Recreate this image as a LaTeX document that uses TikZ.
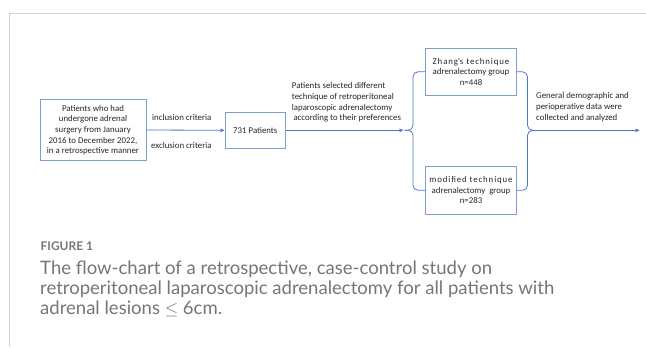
\documentclass[tikz,border=0pt]{standalone}
\usepackage{fontspec}
\setmainfont{Carlito}
\newfontfamily\capfont{Lato}
\usetikzlibrary{arrows.meta}
\definecolor{boxblue}{HTML}{7F9CD6}
\definecolor{lineblue}{HTML}{4F7AC7}
\definecolor{framegray}{HTML}{D2D2D2}
\definecolor{capgray}{HTML}{767676}
\definecolor{txt}{HTML}{262626}
\begin{document}
\begin{tikzpicture}[x=1bp,y=-1bp,
  box/.style={draw=boxblue,line width=0.9bp,inner sep=0pt,align=center,
    font=\fontsize{8.85}{10.7}\selectfont,text=txt},
  lbl/.style={inner sep=0pt,align=left,font=\fontsize{8.85}{10.7}\selectfont,text=txt},
  conn/.style={draw=lineblue,line width=0.8bp},
  arr/.style={conn,-{Triangle[length=4bp,width=3.5bp]}},
  brace/.style={conn,rounded corners=5bp},
  caph/.style={anchor=west,inner sep=0pt,text=capgray,font=\capfont\bfseries\fontsize{12}{14}\selectfont},
  capline/.style={anchor=base west,inner sep=0pt,text=capgray,font=\capfont\fontsize{18.6}{20}\selectfont}]
\useasboundingbox (0,0) rectangle (646,347);
\fill[white] (0,0) rectangle (646,347);
\draw[framegray,line width=1bp] (646,13) -- (9,13) -- (9,347);

% boxes
\node[box,minimum width=106bp,minimum height=60.7bp] (src) at (93,130)
  {Patients who had\\undergone adrenal\\surgery from January\\2016 to December 2022,\\in a retrospective manner};
\node[box,minimum width=60.7bp,minimum height=36bp] (pts) at (255.3,130.3) {731 Patients};
\node[box,minimum width=90.3bp,minimum height=46.7bp] (zh) at (471,71.8)
  {{\addfontfeature{LetterSpace=10}Zhang\textquotesingle s technique}\\adrenalectomy group\\n=448};
\node[box,minimum width=90.3bp,minimum height=47.3bp] (mod) at (471,190.3)
  {{\addfontfeature{LetterSpace=10}modified technique}\\adrenalectomy\ \ group\\n=283};

% labels
\node[lbl,anchor=west] (inc) at (152,117) {inclusion criteria};
\node[lbl,anchor=west] (exc) at (151,145.7) {exclusion criteria};
\node[lbl,anchor=north west] (sel) at (291.7,82.5)
  {Patients selected different\\technique of retroperitoneal\\laparoscopic adrenalectomy\\\hspace*{1.6bp}according to their preferences};
\node[lbl,anchor=north west] (res) at (536,92.5)
  {General demographic and\\perioperative data were\\collected and analyzed};

% connector points
\coordinate (lbx) at (413,130.3);
\coordinate (lbp) at (404.5,130.3);
\coordinate (lbtip) at (403.5,130.3);
\coordinate (rbx) at (527.5,130.3);
\coordinate (rbp) at (533,130.3);
\coordinate (outend) at (639.5,130.3);

% connectors
\draw[arr] (src.east) -- (pts.west);
\draw[arr] (pts.east) -- (lbtip);
\draw[brace] (zh.west) -- (zh.west -| lbx) -- (lbx) -- (lbp);
\draw[brace] (mod.west) -- (mod.west -| lbx) -- (lbx) -- (lbp);
\draw[brace] (zh.east) -- (zh.east -| rbx) -- (rbx) -- (rbp);
\draw[brace] (mod.east) -- (mod.east -| rbx) -- (rbx) -- (rbp);
\draw[arr] (rbp) -- (outend);

% caption
\node[caph] (fig) at (40.5,246) {FIGURE 1};
\node[capline] (cap1) at (40,274.5) {The flow-chart of a retrospective, case-control study on};
\node[capline] (cap2) at (40,294.5) {retroperitoneal laparoscopic adrenalectomy for all patients with};
\node[capline] (cap3) at (40,314.5) {adrenal lesions $\leq$ 6cm.};
\end{tikzpicture}
\end{document}
